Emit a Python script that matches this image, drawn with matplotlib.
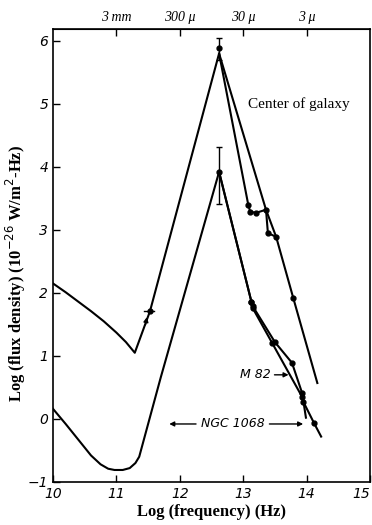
import matplotlib.pyplot as plt
import numpy as np

# Center of galaxy (upper curve)
gal_x = [10.0, 10.2, 10.4, 10.6, 10.8, 11.0, 11.15, 11.29, 11.53, 12.62, 13.08, 13.11, 13.2, 13.36, 13.39, 13.52, 13.79, 14.17]
gal_y = [2.15, 2.01, 1.86, 1.71, 1.55, 1.37, 1.22, 1.05, 1.71, 5.8, 3.40, 3.29, 3.27, 3.32, 2.95, 2.89, 1.92, 0.57]
gal2_x = [12.62, 13.36, 13.52]
gal2_y = [5.8, 3.32, 2.89]
gal_pts_x = [11.53, 13.08, 13.11, 13.2, 13.36, 13.39, 13.52, 13.79]
gal_pts_y = [1.71, 3.40, 3.29, 3.27, 3.32, 2.95, 2.89, 1.92]

# lower curve (M 82 / NGC 1068)
low_x = [10.0, 10.2, 10.4, 10.6, 10.75, 10.87, 10.97, 11.1, 11.21, 11.3, 11.36, 11.7, 12.62]
low_y = [0.16, -0.08, -0.33, -0.58, -0.72, -0.79, -0.81, -0.81, -0.78, -0.7, -0.6, 0.66, 3.92]
m82_x = [12.62, 13.13, 13.15, 13.5, 13.77, 13.93, 13.99]
m82_y = [3.92, 1.86, 1.79, 1.22, 0.89, 0.41, 0.02]
ngc_x = [12.62, 13.13, 13.15, 13.46, 13.93, 13.95, 14.12, 14.23]
ngc_y = [3.92, 1.86, 1.76, 1.2, 0.35, 0.27, -0.07, -0.28]

# peaks with error bars
peak_x = [12.62, 12.62]
peak_y = [5.89, 3.92]
peak_lo = [0.19, 0.51]
peak_hi = [0.16, 0.40]

top_ticks = [11, 12, 13, 14]
top_labels = ['3 mm', '300 μ', '30 μ', '3 μ']

fig = plt.figure(figsize=(3.72, 5.25), dpi=100)
ax = fig.add_axes([0.1425, 0.082, 0.852, 0.863])
lw = 1.5
k = 'black'

ax.plot(gal_x, gal_y, color=k, lw=lw)
ax.plot(gal2_x, gal2_y, color=k, lw=lw)
ax.plot(gal_pts_x, gal_pts_y, 'o', color=k, ms=3.5)
ax.plot(low_x, low_y, color=k, lw=lw)
ax.plot(m82_x, m82_y, color=k, lw=lw, marker='o', ms=3.5, markevery=[1, 2, 3, 4, 5])
ax.plot(ngc_x, ngc_y, color=k, lw=lw, marker='o', ms=3.5, markevery=[1, 2, 3, 4, 5, 6])
ax.errorbar(peak_x, peak_y, yerr=[peak_lo, peak_hi], fmt='o', color=k, ms=3.5,
            elinewidth=1, capsize=2.5, capthick=1)

# small mark and arrow on the rising line
ax.plot([11.43, 11.6], [1.71, 1.71], color=k, lw=1)
ax.annotate('', xy=(11.49, 1.66), xytext=(11.45, 1.45),
            arrowprops=dict(arrowstyle='-|>', color=k, lw=1, mutation_scale=7))

ax.text(13.07, 5.0, 'Center of galaxy', family='Liberation Serif', fontsize=11, va='center')
ax.text(13.43, 0.7, 'M 82', family='DejaVu Sans', style='italic', fontsize=9, ha='right', va='center')
ax.annotate('', xy=(13.76, 0.7), xytext=(13.45, 0.7),
            arrowprops=dict(arrowstyle='-|>', color=k, lw=1, mutation_scale=7))
ax.text(12.83, -0.08, 'NGC 1068', family='DejaVu Sans', style='italic', fontsize=9, ha='center', va='center')
ax.annotate('', xy=(11.79, -0.08), xytext=(12.3, -0.08),
            arrowprops=dict(arrowstyle='-|>', color=k, lw=1, mutation_scale=7))
ax.annotate('', xy=(13.99, -0.08), xytext=(13.37, -0.08),
            arrowprops=dict(arrowstyle='-|>', color=k, lw=1, mutation_scale=7))

ax.set_xlim(10, 15)
ax.set_ylim(-1, 6.19)
ax.set_xticks(range(10, 16))
ax.set_yticks(range(-1, 7))
ax.tick_params(direction='in', length=5, width=1, labelsize=10)
for t in ax.get_xticklabels() + ax.get_yticklabels():
    t.set_style('italic')
ax.get_xticklabels()[-1].set_horizontalalignment('right')
ax.set_xlabel('Log (frequency) (Hz)', family='Liberation Serif', fontsize=12, fontweight='bold', labelpad=2)
ax.set_ylabel('Log (flux density) (10$^{-26}$ W/m$^2$-Hz)', family='Liberation Serif', fontsize=12,
              fontweight='bold')
ax.yaxis.set_label_coords(-0.08, 0.46)

top = ax.secondary_xaxis('top')
top.set_xticks(top_ticks)
top.set_xticklabels(top_labels, family='Liberation Serif', style='italic', fontsize=10)
top.tick_params(direction='in', length=5, width=1)

for s in ax.spines.values():
    s.set_linewidth(1.2)

plt.savefig('out.png', dpi=100)
